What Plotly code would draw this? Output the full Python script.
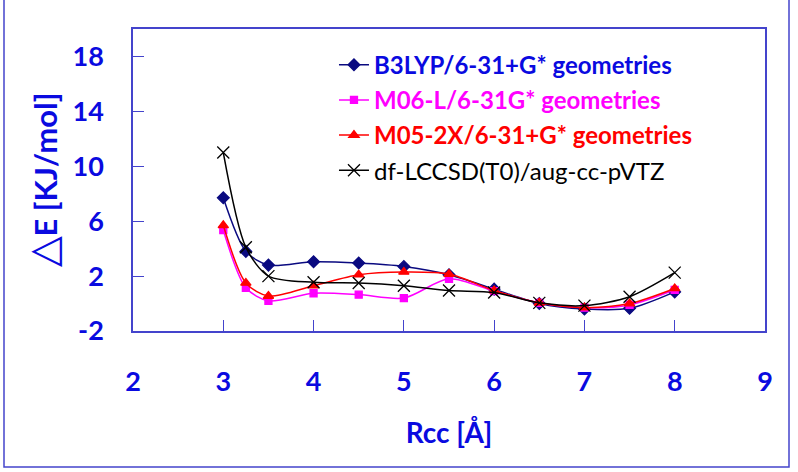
import plotly.graph_objects as go

rcc = [3, 3.25, 3.5, 4, 4.5, 5, 5.5, 6, 6.5, 7, 7.5, 8]
b3lyp = [7.7, 3.8, 2.8, 3.05, 2.95, 2.7, 2.1, 1.05, 0.0, -0.4, -0.35, 0.85]
m06l = [5.35, 1.15, 0.2, 0.75, 0.65, 0.4, 1.8, 0.9, 0.05, -0.3, -0.1, 1.0]
m052x = [5.7, 1.5, 0.55, 1.3, 2.1, 2.3, 2.15, 0.95, 0.05, -0.3, 0.0, 1.1]
lccsd = [11.0, 4.1, 2.0, 1.55, 1.5, 1.3, 0.95, 0.8, 0.05, -0.15, 0.5, 2.25]

names = ["B3LYP/6-31+G* geometries", "M06-L/6-31G* geometries",
         "M05-2X/6-31+G* geometries", "df-LCCSD(T0)/aug-cc-pVTZ"]
xticks = [2, 3, 4, 5, 6, 7, 8, 9]
yticks = [-2, 2, 6, 10, 14, 18]
yticklabels = ["-2", "2", "6", "10", "14", "18"]

TXT = "#0a0ae0"
AX = "#4444cc"
FONT = "Lato"

series = [
    (b3lyp, names[0], "#0a0a80", "#0a0ae0", "diamond", 9, True),
    (m06l, names[1], "#ff00ff", "#ff00ff", "square", 7, True),
    (m052x, names[2], "#ff0000", "#ff0000", "triangle-up", 9, True),
    (lccsd, names[3], "#000000", "#000000", "x-thin-open", 12, False),
]

fig = go.Figure()
for i, (ys, nm, col, tcol, sym, sz, bold) in enumerate(series):
    label = f"<span style='color:{tcol}'>{'<b>' + nm + '</b>' if bold else nm}</span>"
    fig.add_trace(go.Scatter(
        x=rcc, y=ys, name=label, mode="lines+markers",
        line=dict(color=col, width=1.5, shape="spline", smoothing=0.8),
        marker=dict(symbol=sym, size=sz, color=col, line=dict(color=col, width=1.3)),
        legendgroup=f"g{i}",
    ))

fig.update_layout(
    width=798, height=472,
    margin=dict(l=133, r=33, t=29, b=141),
    paper_bgcolor="white", plot_bgcolor="white",
    font=dict(family=FONT, color=TXT),
    showlegend=True,
    legend=dict(x=0.318, y=0.955, xanchor="left", yanchor="top",
                font=dict(family=FONT, size=24), bgcolor="rgba(0,0,0,0)",
                tracegroupgap=1, itemwidth=30),
    xaxis=dict(range=[2, 9], tickvals=xticks, ticks="inside", ticklen=11,
               tickcolor=AX, showline=True, linecolor=AX, linewidth=1.5,
               mirror=True, showgrid=False, zeroline=False,
               tickfont=dict(family=FONT, size=27, color=TXT, weight="bold"),
               ticklabelstandoff=26,
               title=dict(text="<b>Rcc [Å]</b>", font=dict(family=FONT, size=28, color=TXT),
                          standoff=27)),
    yaxis=dict(range=[-2, 20], tickvals=yticks, ticktext=yticklabels,
               ticks="inside", ticklen=11,
               tickcolor=AX, showline=True, linecolor=AX, linewidth=1.5,
               mirror=True, showgrid=False, zeroline=False,
               tickfont=dict(family=FONT, size=27, color=TXT, weight="bold"),
               ticklabelstandoff=22,
               title=dict(text="<span style='font-size:40px'>△</span><b>E [KJ/mol]</b>",
                          font=dict(family=FONT, size=31, color=TXT),
                          standoff=6)),
    shapes=[dict(type="rect", xref="paper", yref="paper",
                 x0=(4 - 133) / 632, x1=(789 - 133) / 632,
                 y0=(331 - 467) / 302, y1=(331 + 5) / 302,
                 line=dict(color=AX, width=1.5))],
)

fig.write_html("out.html")
